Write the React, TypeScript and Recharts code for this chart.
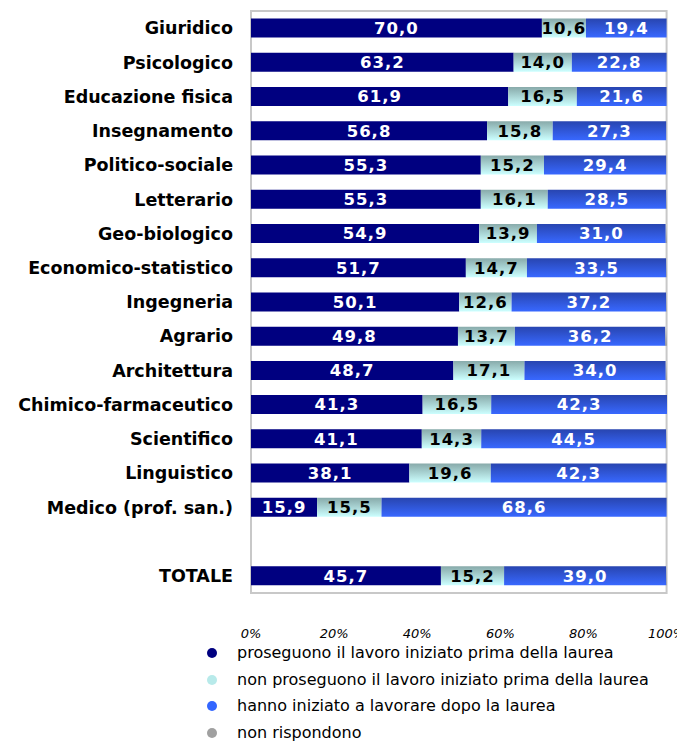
import { Bar, BarChart, LabelList, ReferenceArea, XAxis, YAxis } from 'recharts'

const categories = [
  'Giuridico',
  'Psicologico',
  'Educazione fisica',
  'Insegnamento',
  'Politico-sociale',
  'Letterario',
  'Geo-biologico',
  'Economico-statistico',
  'Ingegneria',
  'Agrario',
  'Architettura',
  'Chimico-farmaceutico',
  'Scientifico',
  'Linguistico',
  'Medico (prof. san.)',
  '',
  'TOTALE',
]

const proseguono = [70.0, 63.2, 61.9, 56.8, 55.3, 55.3, 54.9, 51.7, 50.1, 49.8, 48.7, 41.3, 41.1, 38.1, 15.9, null, 45.7]
const nonProseguono = [10.6, 14.0, 16.5, 15.8, 15.2, 16.1, 13.9, 14.7, 12.6, 13.7, 17.1, 16.5, 14.3, 19.6, 15.5, null, 15.2]
const dopoLaurea = [19.4, 22.8, 21.6, 27.3, 29.4, 28.5, 31.0, 33.5, 37.2, 36.2, 34.0, 42.3, 44.5, 42.3, 68.6, null, 39.0]
const nonRispondono = [0, 0, 0, 0, 0, 0.1, 0.2, 0.1, 0.1, 0.3, 0.2, 0, 0.1, 0, 0, null, 0.1]

const xTicks = [0, 20, 40, 60, 80, 100]

const legendItems = [
  { name: 'proseguono il lavoro iniziato prima della laurea', color: '#000080' },
  { name: 'non proseguono il lavoro iniziato prima della laurea', color: '#b8eaea' },
  { name: 'hanno iniziato a lavorare dopo la laurea', color: '#3366ff' },
  { name: 'non rispondono', color: '#a0a0a0' },
]

const data = categories.map((name, i) => ({
  name,
  a: proseguono[i],
  b: nonProseguono[i],
  c: dopoLaurea[i],
  d: nonRispondono[i],
}))

const font = '"DejaVu Sans", Verdana, sans-serif'
const fmt = (v: any) => (v == null || v < 1 ? '' : Number(v).toFixed(1).replace('.', ','))

const labelStyle = { fontFamily: font, fontSize: 16.5, fontWeight: 700, letterSpacing: 1 }

export default function App() {
  return (
    <div style={{ position: 'relative', width: 677, height: 734, fontFamily: font }}>
      <BarChart
        width={677}
        height={734}
        data={data}
        layout="vertical"
        barCategoryGap="22%"
        margin={{ top: 3, right: 18, bottom: 89, left: 0 }}
      >
        <defs>
          <linearGradient id="gCyan" x1="0" y1="0" x2="0" y2="1">
            <stop offset="0%" stopColor="#88aaaa" />
            <stop offset="100%" stopColor="#ccffff" />
          </linearGradient>
          <linearGradient id="gBlue" x1="0" y1="0" x2="0" y2="1">
            <stop offset="0%" stopColor="#2845b0" />
            <stop offset="100%" stopColor="#3868ff" />
          </linearGradient>
          <linearGradient id="gGray" x1="0" y1="0" x2="0" y2="1">
            <stop offset="0%" stopColor="#d8d8d8" />
            <stop offset="100%" stopColor="#808080" />
          </linearGradient>
        </defs>
        <XAxis
          type="number"
          domain={[0, 100]}
          ticks={xTicks}
          tickFormatter={(v) => `${v}%`}
          axisLine={false}
          tickLine={false}
          tickSize={0}
          tickMargin={36}
          height={60}
          interval={0}
          tick={{ fill: '#000', fontSize: 13, fontStyle: 'italic', fontFamily: font }}
        />
        <YAxis
          type="category"
          dataKey="name"
          width={243}
          axisLine={false}
          tickLine={false}
          tickSize={0}
          tickMargin={18}
          interval={0}
          tick={{ fill: '#000', fontSize: 17.5, fontWeight: 700, fontFamily: font }}
        />
        <ReferenceArea x1={0} x2={100} fill="none" stroke="#c8c8c8" strokeWidth={2} ifOverflow="visible" />
        <Bar dataKey="a" stackId="s" fill="#000080" isAnimationActive={false}>
          <LabelList dataKey="a" position="center" formatter={fmt} fill="#fff" style={labelStyle} />
        </Bar>
        <Bar dataKey="b" stackId="s" fill="url(#gCyan)" isAnimationActive={false}>
          <LabelList dataKey="b" position="center" formatter={fmt} fill="#000" style={labelStyle} />
        </Bar>
        <Bar dataKey="c" stackId="s" fill="url(#gBlue)" isAnimationActive={false}>
          <LabelList dataKey="c" position="center" formatter={fmt} fill="#fff" style={labelStyle} />
        </Bar>
        <Bar dataKey="d" stackId="s" fill="url(#gGray)" isAnimationActive={false} />
      </BarChart>
      <div style={{ position: 'absolute', left: 199, top: 632 }}>
        {legendItems.map((it) => (
          <div
            key={it.name}
            style={{ display: 'flex', alignItems: 'center', height: 26.5, fontSize: 16, lineHeight: 1, color: '#000' }}
          >
            <span
              style={{
                display: 'inline-block',
                width: 10,
                height: 10,
                borderRadius: '50%',
                background: it.color,
                marginRight: 20,
              }}
            />
            <span>{it.name}</span>
          </div>
        ))}
      </div>
    </div>
  )
}
